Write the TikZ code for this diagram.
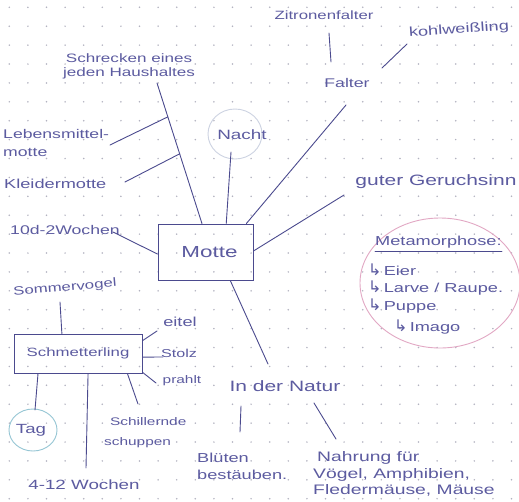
\documentclass[tikz,border=0pt]{standalone}
\usepackage{fontspec}
\setmainfont{Liberation Sans}[FakeStretch=1.4]
\newfontfamily\symfont{DejaVu Sans}
\usetikzlibrary{calc}

\definecolor{ink}{HTML}{4B4A8E}
\definecolor{pen}{HTML}{5C5BA0}
\definecolor{dotgrey}{RGB}{178,178,192}
\definecolor{nachtring}{RGB}{205,211,226}
\definecolor{tagring}{RGB}{150,198,212}
\definecolor{metaring}{RGB}{226,168,196}

% font size helper: size, baseline skip
\newcommand\pensize[2]{\fontsize{#1}{#2}\selectfont}
% hooked arrow used in the Metamorphose list
\newcommand\hookarrow{{\symfont\fontsize{16}{16}\selectfont ↳}}

\tikzset{
  lbl/.style={text=pen, inner sep=0pt},
  conn/.style={draw=ink, line width=0.9pt, line cap=round},
  topicbox/.style={draw=ink, line width=1pt, rectangle, inner sep=0pt, text=pen},
  ring/.style={line width=0.9pt},
}

\begin{document}
\begin{tikzpicture}[x=1pt, y=-1pt]
  \useasboundingbox (0,0) rectangle (519,501);
  \fill[white] (0,0) rectangle (519,501);

  % dotted paper
  \foreach \i in {0,...,27}
    \foreach \j in {0,...,26}
      \fill[dotgrey] ({9.3+18.6*\i},{7.3+18.9*\j}) circle (0.85pt);

  % central topics
  \node[topicbox, minimum width=95pt, minimum height=56pt, font=\pensize{16}{18}]
    (motte) at (205.5,252) {\hspace*{8pt}Motte};
  \node[topicbox, minimum width=128pt, minimum height=39pt, font=\pensize{12}{14}]
    (schmet) at (78,353.5) {Schmetterling};

  % circled notes
  \draw[ring, draw=nachtring] (235,134) ellipse [x radius=27pt, y radius=25pt];
  \draw[ring, draw=tagring] (33,430) ellipse [x radius=24pt, y radius=21pt];
  \draw[ring, draw=metaring] (440,283) ellipse [x radius=80pt, y radius=65pt];

  % labels around "Motte"
  \node[lbl, font=\pensize{12}{14}] (zitrone) at (324,15) {Zitronenfalter};
  \node[lbl, font=\pensize{13}{15}, rotate=4] (kohl) at (459,30) {kohlweißling};
  \node[lbl, font=\pensize{12.6}{15}] (falter) at (347,83) {Falter};
  \node[lbl, font=\pensize{12.2}{14}, align=center] (haus) at (129,66)
    {Schrecken eines\\jeden Haushaltes};
  \node[lbl, anchor=west, align=left, font=\pensize{12.6}{18}] (lebens) at (3,143)
    {Lebensmittel-\\motte};
  \node[lbl, anchor=west, font=\pensize{13}{15}] (kleider) at (4,184) {Kleidermotte};
  \node[lbl, font=\pensize{13.5}{15}] (nacht) at (242,135) {Nacht};
  \node[lbl, font=\pensize{15}{17}] (geruch) at (436,182) {guter Geruchsinn};
  \node[lbl, font=\pensize{12.6}{15}] (dauer) at (65,230) {10d-2Wochen};
  \node[lbl, font=\pensize{15}{17}] (natur) at (285,386) {In der Natur};
  \node[lbl, anchor=west, align=left, font=\pensize{13}{17}] (blueten) at (197,466)
    {Blüten\\bestäuben.};
  \node[lbl, anchor=west, align=left, font=\pensize{13.8}{16.5}] (nahrung) at (313,474)
    {\hspace*{4pt}Nahrung für\\Vögel, Amphibien,\\Fledermäuse, Mäuse};

  % labels around "Schmetterling"
  \node[lbl, font=\pensize{12}{14}, rotate=5] (sommer) at (65,288) {Sommervogel};
  \node[lbl, font=\pensize{13}{15}] (eitel) at (180,322) {eitel};
  \node[lbl, font=\pensize{11.5}{14}] (stolz) at (179,353) {Stolz};
  \node[lbl, font=\pensize{11}{13}] (prahlt) at (182,381) {prahlt};
  \node[lbl, font=\pensize{13.3}{15}] (tag) at (31,430) {Tag};
  \node[lbl, font=\pensize{13.4}{15}] (wochen) at (84,485) {4-12 Wochen};
  \node[lbl, anchor=west, align=left, font=\pensize{11}{20}] (schuppen) at (104,433)
    {\hspace*{6pt}Schillernde\\schuppen};

  % Metamorphose note
  \node[lbl, anchor=west, font=\pensize{13}{15}] (meta) at (375,242) {Metamorphose:};
  \draw[conn, line width=0.8pt] ($(meta.south west)+(0,3)$) -- ($(meta.south east)+(0,3)$);
  \node[lbl, anchor=west, font=\pensize{13}{15}] (eier) at (368,270) {\hookarrow\,Eier};
  \node[lbl, anchor=west, font=\pensize{13}{15}] (larve) at (368,288) {\hookarrow\,Larve / Raupe.};
  \node[lbl, anchor=west, font=\pensize{13}{15}] (puppe) at (368,306) {\hookarrow\,Puppe};
  \node[lbl, anchor=west, font=\pensize{13}{15}] (imago) at (394,327) {\hookarrow\,Imago};

  % attachment points on the boxes
  \coordinate (hausFoot)  at ($(motte.north west)!.463!(motte.north east)$);
  \coordinate (nachtFoot) at ($(motte.north west)!.716!(motte.north east)$);
  \coordinate (falterFoot) at ($(motte.north west)!.926!(motte.north east)$);
  \coordinate (geruchFoot) at ($(motte.north east)!.482!(motte.south east)$);
  \coordinate (dauerFoot) at ($(motte.north west)!.536!(motte.south west)$);
  \coordinate (naturFoot) at ($(motte.south west)!.758!(motte.south east)$);

  \coordinate (sommerFoot) at ($(schmet.north west)!.375!(schmet.north east)$);
  \coordinate (eitelFoot) at ($(schmet.north east)!.18!(schmet.south east)$);
  \coordinate (stolzFoot) at ($(schmet.north east)!.59!(schmet.south east)$);
  \coordinate (prahltFoot) at ($(schmet.north east)!.97!(schmet.south east)$);
  \coordinate (tagFoot) at ($(schmet.south west)!.19!(schmet.south east)$);
  \coordinate (wochenFoot) at ($(schmet.south west)!.578!(schmet.south east)$);
  \coordinate (schuppenFoot) at ($(schmet.south west)!.883!(schmet.south east)$);

  % free ends of the branches
  \coordinate (hausEnd) at (157,83);
  \coordinate (lebensFork) at ($(hausEnd)!.241!(hausFoot)$);
  \coordinate (kleiderFork) at ($(hausEnd)!.504!(hausFoot)$);
  \coordinate (lebensEnd) at (110,145);
  \coordinate (kleiderEnd) at (125,182);
  \coordinate (nachtEnd) at (231,152);
  \coordinate (falterEnd) at (346,105);
  \coordinate (geruchEnd) at (344,195);
  \coordinate (dauerEnd) at (113,232);
  \coordinate (naturEnd) at (268,364);
  \coordinate (zitroneTop) at (329,33);
  \coordinate (zitroneEnd) at (331,62);
  \coordinate (kohlTop) at (407,44);
  \coordinate (kohlEnd) at (382,68);
  \coordinate (bluetenTop) at (241,406);
  \coordinate (bluetenEnd) at (240,432);
  \coordinate (nahrungTop) at (314,403);
  \coordinate (nahrungEnd) at (336,439);

  \coordinate (sommerEnd) at (60,302);
  \coordinate (eitelEnd) at (157,331);
  \coordinate (stolzEnd) at (163,357);
  \coordinate (prahltEnd) at (156,383);
  \coordinate (tagEnd) at (35,410);
  \coordinate (wochenEnd) at (86,468);
  \coordinate (schuppenEnd) at (138,404);

  % branches of "Motte"
  \draw[conn] (hausEnd) -- (hausFoot);
  \draw[conn] (lebensFork) -- (lebensEnd);
  \draw[conn] (kleiderFork) -- (kleiderEnd);
  \draw[conn] (nachtEnd) -- (nachtFoot);
  \draw[conn] (falterEnd) -- (falterFoot);
  \draw[conn] (geruchEnd) -- (geruchFoot);
  \draw[conn] (dauerEnd) -- (dauerFoot);
  \draw[conn] (naturFoot) -- (naturEnd);
  \draw[conn] (zitroneTop) -- (zitroneEnd);
  \draw[conn] (kohlTop) -- (kohlEnd);
  \draw[conn] (bluetenTop) -- (bluetenEnd);
  \draw[conn] (nahrungTop) -- (nahrungEnd);

  % branches of "Schmetterling"
  \draw[conn] (sommerEnd) -- (sommerFoot);
  \draw[conn] (eitelFoot) -- (eitelEnd);
  \draw[conn] (stolzFoot) -- (stolzEnd);
  \draw[conn] (prahltFoot) -- (prahltEnd);
  \draw[conn] (tagFoot) -- (tagEnd);
  \draw[conn] (wochenFoot) -- (wochenEnd);
  \draw[conn] (schuppenFoot) -- (schuppenEnd);
\end{tikzpicture}
\end{document}
